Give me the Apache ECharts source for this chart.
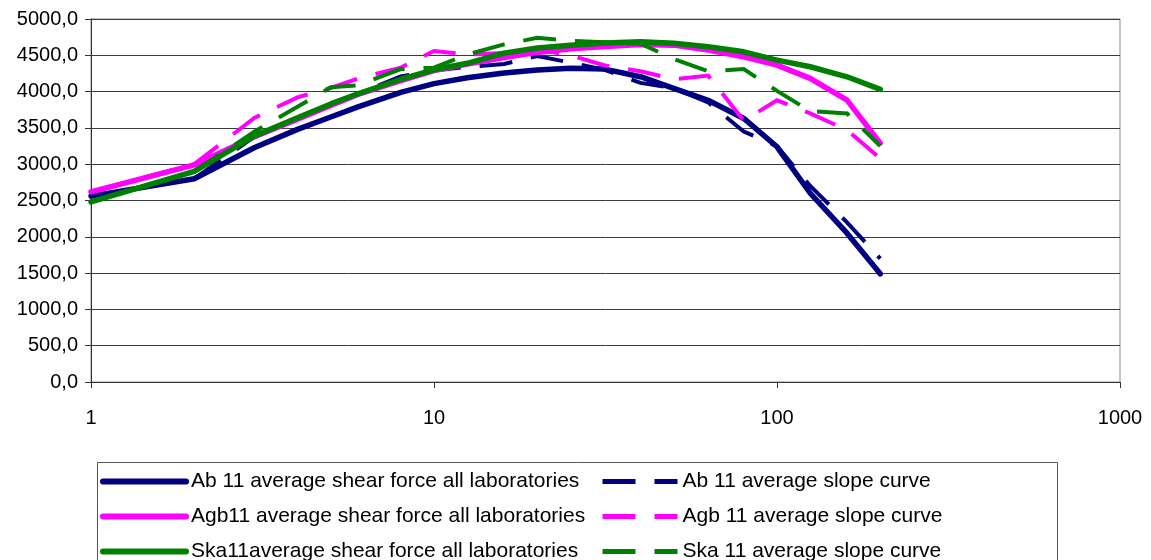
<!DOCTYPE html>
<html>
<head>
<meta charset="utf-8">
<script src="https://cdn.jsdelivr.net/npm/echarts@6/dist/echarts.min.js"></script>
<style>
  html, body { margin: 0; padding: 0; background: #fff; }
  #chart { width: 1151px; height: 560px; }
</style>
</head>
<body>
<div id="chart"></div>
<script>
// Shear time / rate steps (log axis)
const steps = [1, 2, 3, 4, 5, 6, 8, 10, 12.5, 16, 20, 25, 31.5, 40, 50, 63, 80, 100, 125, 160, 200];

// Average shear force, all laboratories
const abForce  = [2560, 2800, 3230, 3480, 3650, 3790, 3990, 4110, 4190, 4255, 4296, 4320, 4310, 4205, 4045, 3880, 3630, 3240, 2600, 2050, 1490];
const agbForce = [2620, 2990, 3380, 3620, 3810, 3960, 4150, 4290, 4380, 4470, 4540, 4590, 4620, 4650, 4640, 4572, 4480, 4365, 4182, 3883, 3290];
const skaForce = [2480, 2900, 3390, 3640, 3830, 3970, 4170, 4300, 4390, 4530, 4600, 4640, 4668, 4686, 4665, 4618, 4548, 4434, 4342, 4204, 4030];

// Average slope curves
const abSlope  = [2560, 2800, 3380, 3640, 3830, 3970, 4210, 4290, 4340, 4380, 4490, 4400, 4300, 4120, 4050, 3850, 3450, 3250, 2700, 2200, 1700];
const agbSlope = [2620, 3000, 3640, 3920, 4050, 4180, 4330, 4560, 4510, 4530, 4580, 4500, 4360, 4280, 4170, 4220, 3600, 3880, 3700, 3470, 3080];
const skaSlope = [2480, 2900, 3450, 3790, 4060, 4085, 4310, 4330, 4510, 4650, 4740, 4700, 4680, 4660, 4450, 4280, 4310, 4010, 3730, 3700, 3250];

const yTicks = { min: 0, max: 5000, step: 500 };

const names = {
  abForce:  'Ab 11 average shear force all laboratories',
  abSlope:  'Ab 11 average slope curve',
  agbForce: 'Agb11 average shear force all laboratories',
  agbSlope: 'Agb 11 average slope curve',
  skaForce: 'Ska11average shear force all laboratories',
  skaSlope: 'Ska 11 average slope curve'
};

const NAVY = '#000080', MAGENTA = '#FF00FF', GREEN = '#008000';
const FONT = "'Liberation Sans', Arial, sans-serif";
const FS = 20;

const pairs = vals => steps.map((s, i) => [s, vals[i]]);

function solid(name, vals, color) {
  return {
    name, type: 'line', data: pairs(vals), symbol: 'none', smooth: false,
    lineStyle: { color, width: 5.5, cap: 'round', join: 'round' },
    itemStyle: { color }
  };
}
function dashed(name, vals, color) {
  return {
    name, type: 'line', data: pairs(vals), symbol: 'none', smooth: false,
    lineStyle: { color, width: 4, type: [33, 19], cap: 'butt', join: 'miter' },
    itemStyle: { color }
  };
}

const legendText = { fontSize: 21, color: '#000', fontFamily: FONT, lineHeight: 20 };

const chart = echarts.init(document.getElementById('chart'), null, { renderer: 'canvas' });

chart.setOption({
  animation: false,
  backgroundColor: '#fff',
  textStyle: { fontFamily: FONT },
  grid: {
    left: 91, right: 31, top: 19, bottom: 178,
    show: true, borderColor: '#8c8c8c', borderWidth: 1, backgroundColor: 'transparent'
  },
  xAxis: {
    type: 'log', logBase: 10, min: 1, max: 1000,
    axisLine: { show: true, onZero: false, lineStyle: { color: '#333', width: 1 } },
    axisTick: { show: true, length: 6, lineStyle: { color: '#333' } },
    minorTick: { show: false },
    splitLine: { show: false },
    axisLabel: { fontSize: FS, color: '#000', margin: 26, fontFamily: FONT, formatter: v => String(v) }
  },
  yAxis: {
    type: 'value', min: yTicks.min, max: yTicks.max, interval: yTicks.step,
    axisLine: { show: true, lineStyle: { color: '#333', width: 1 } },
    axisTick: { show: true, length: 6, lineStyle: { color: '#333' } },
    splitLine: { show: true, lineStyle: { color: '#3a3a3a', width: 1 } },
    axisLabel: {
      fontSize: FS, color: '#000', margin: 13, fontFamily: FONT,
      formatter: v => v.toFixed(1).replace('.', ',')
    }
  },
  legend: [
    {
      orient: 'vertical', left: 100, top: 471, height: 200, padding: 0, itemGap: 14,
      itemWidth: 83, itemHeight: 20,
      lineStyle: { width: 6, cap: 'round' },
      itemStyle: { opacity: 0 },
      textStyle: legendText,
      data: [names.abForce, names.agbForce, names.skaForce],
      selectedMode: false
    },
    {
      orient: 'vertical', left: 600, top: 471, height: 200, padding: 0, itemGap: 14,
      itemWidth: 75, itemHeight: 20,
      lineStyle: { width: 5 },
      itemStyle: { opacity: 0 },
      textStyle: legendText,
      data: [names.abSlope, names.agbSlope, names.skaSlope],
      selectedMode: false
    }
  ],
  graphic: [{
    type: 'rect', left: 97, top: 462, z: -1,
    shape: { width: 960, height: 120 },
    style: { fill: '#fff', stroke: '#555', lineWidth: 1 }
  }],
  series: [
    solid(names.abForce, abForce, NAVY),
    dashed(names.abSlope, abSlope, NAVY),
    solid(names.agbForce, agbForce, MAGENTA),
    dashed(names.agbSlope, agbSlope, MAGENTA),
    solid(names.skaForce, skaForce, GREEN),
    dashed(names.skaSlope, skaSlope, GREEN)
  ]
});
</script>
</body>
</html>
